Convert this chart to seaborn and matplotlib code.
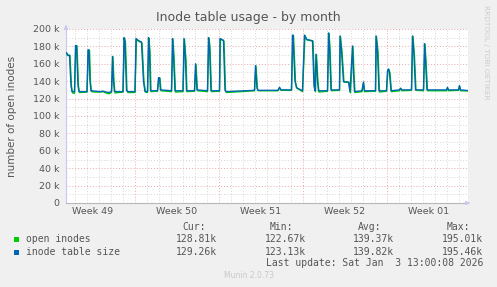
import matplotlib
matplotlib.use("Agg")
import matplotlib.pyplot as plt
import matplotlib.patches as mpatches
from matplotlib.ticker import FuncFormatter
import numpy as np
import pandas as pd
import seaborn as sns

# ---------------- data (hours since left edge of graph, values in thousands) ----
table_hours = [0,2,3,7,10,12,17,19,21,24,
               26,42,44,46,48,50,58,68,74,80,
               86,91,93,95,97,114,116,118,121,123,
               138,140,144,151,155,158,163,165,167,169,
               183,185,187,189,211,213,215,218,234,236,
               239,241,257,259,262,283,285,287,290,307,
               308,315,318,320,377,379,382,384,424,427,
               430,451,453,454,458,461,473,477,481,493,
               496,498,500,503,505,523,525,527,530,547,
               548,551,555,565,568,573,575,577,592,595,
               597,619,620,623,626,641,643,645,647,650,
               667,669,672,691,693,696,699,715,717,719,
               722,761,763,765,785,787,789,804]

table_size_k = [173,172,170,170,135,128,128,181,181,135,
                128,128,176,176,140,129,128.5,128,128.5,127.5,
                127,128,168.5,140,128,128,190,185,130,128,
                128,189,187,185,140,128,128,190,175,129,
                129,144,144,130,129,189,170,129,129,189,
                165,129,129,160,130,129,190,180,129,129,
                189,187,130,128,129.5,158,132,129.5,129.5,133,
                130,130,193,193,140,132.5,129,193,188,186.5,
                135,129,171,140,129,129,195.4,180,130,130,
                192,175,139.5,139,128,180.5,150,128,129,139,
                129,129,192,175,129,129,152,154,150,129,
                130,132,130,130,192,170,130,130,183,165,
                130,130,133,130,130,135,130,129.26]

open_hours = [0,2,3,8,11,13,17,20,22,25,
              27,42,45,47,49,51,58,68,74,80,
              86,91,94,96,98,114,117,119,122,124,
              138,141,145,152,156,159,163,166,168,170,
              183,186,188,190,211,214,216,219,234,237,
              240,242,257,260,263,283,286,288,291,307,
              309,316,319,321,377,380,383,385,424,427,
              430,451,454,455,459,462,473,478,482,494,
              497,499,501,504,506,523,526,528,531,547,
              549,552,556,566,569,574,576,578,592,595,
              597,619,621,624,627,641,644,646,648,651,
              667,669,672,691,694,697,700,715,718,720,
              723,761,763,765,785,787,789,804]

open_inodes_k = [172.5,171.5,169.5,169.5,134,126.5,126,180.5,180.5,134,
                 127,127.5,175.5,175.5,139,128,127.5,127.5,128,126.5,
                 125.5,127,168,139,126.5,127.5,189.5,184,129,127,
                 127,188.5,186,184,139,127.5,127,189.5,174,128,
                 128.5,143.5,143.5,129,128,188.5,169,127.5,128,188.5,
                 164,128,128.5,159.5,129,128,189.5,179,128,128.5,
                 188.5,186,129,127,129,157.5,131,129,129,132.5,
                 129.5,129.5,192.5,192.5,139,132,128,192.5,187.5,186,
                 134,128,170.5,139,127.5,128.5,195.0,179,129,129.5,
                 191.5,174,139,138.5,126.5,180,149,127,128,138,
                 128,128.5,191.5,174,127.5,128.5,151.5,153.5,149,128,
                 129,131.5,129,129.5,191.5,169,129.5,129,182.5,164,
                 129,129,132,129,129.5,134,129,128.81]

week_labels = ["Week 49", "Week 50", "Week 51", "Week 52", "Week 01"]
week_label_hours = [54, 222, 390, 558, 726]
week_boundary_hours = [138, 306, 474, 642]
day_grid_hours = list(range(18, 804, 24))

series_names = ["open inodes", "inode table size"]
series_colors = ["#00cc00", "#0066b3"]
stats_cur = ["128.81k", "129.26k"]
stats_min = ["122.67k", "123.13k"]
stats_avg = ["139.37k", "139.82k"]
stats_max = ["195.01k", "195.46k"]

title = "Inode table usage - by month"
ylabel = "number of open inodes"
last_update = "Last update: Sat Jan  3 13:00:08 2026"

# ---------------- figure ----------------
sns.set_theme(style="white")
plt.rcParams['font.family'] = ['DejaVu Sans']

W, H = 497, 287
fig = plt.figure(figsize=(W / 100, H / 100), dpi=100, facecolor="#f0f0f0")

def fx(px):
    return px / W

def fy(py):
    return 1 - py / H

ax = fig.add_axes([fx(66), fy(203), fx(468) - fx(66), fy(29) - fy(203)])
ax.set_facecolor("white")

# grid
minor_c = "#d4d4d4"
major_c = "#e8a6a6"
dot = (0, (1, 2))
for yv in range(10000, 200001, 20000):
    ax.axhline(yv, color=minor_c, lw=0.7, ls=dot, zorder=0)
for xv in day_grid_hours:
    if xv not in week_boundary_hours:
        ax.axvline(xv, color=minor_c, lw=0.7, ls=dot, zorder=0)
for yv in range(20000, 200001, 20000):
    ax.axhline(yv, color=major_c, lw=0.7, ls=dot, zorder=0.5)
for xv in week_boundary_hours:
    ax.axvline(xv, color=major_c, lw=0.7, ls=dot, zorder=0.5)

df = pd.DataFrame({
    "hours": open_hours + table_hours,
    "value": [v * 1000 for v in open_inodes_k] + [v * 1000 for v in table_size_k],
    "series": [series_names[0]] * len(open_hours) + [series_names[1]] * len(table_hours),
})
sns.lineplot(data=df, x="hours", y="value", hue="series",
             palette=dict(zip(series_names, series_colors)),
             linewidth=1.0, legend=False, ax=ax, zorder=3, estimator=None,
             sort=False)

ax.set_xlim(0, 804)
ax.set_ylim(0, 200000)
ax.set_xlabel("")
ax.set_ylabel("")
ax.set_xticks(week_label_hours)
ax.set_xticklabels(week_labels)
ax.set_yticks(range(0, 200001, 20000))
ax.yaxis.set_major_formatter(FuncFormatter(lambda v, p: "0" if v == 0 else f"{int(v / 1000)} k"))
ax.tick_params(axis="both", length=0, labelsize=6.8, colors="#555555")
ax.tick_params(axis="y", pad=5)
ax.tick_params(axis="x", pad=3)
for s in ["top", "right"]:
    ax.spines[s].set_visible(False)
ax.spines["left"].set_color("#c8c8f0")
ax.spines["left"].set_linewidth(0.8)
ax.spines["bottom"].set_color("#b8b8b8")
ax.spines["bottom"].set_linewidth(0.8)

# axis arrows
ax.annotate("", xy=(0, 1.04), xytext=(0, 0.995), xycoords="axes fraction",
            arrowprops=dict(arrowstyle="-|>", color="#c8c8f0", lw=0.8,
                            mutation_scale=6), annotation_clip=False)
ax.annotate("", xy=(1.012, 0), xytext=(0.995, 0), xycoords="axes fraction",
            arrowprops=dict(arrowstyle="-|>", color="#c8c8f0", lw=0.8,
                            mutation_scale=6), annotation_clip=False)

# texts
fig.text(0.5, fy(17), title, ha="center", va="center", fontsize=9, color="#555555")
fig.text(fx(12), fy(116), ylabel, ha="center", va="center", rotation=90,
         fontsize=7.5, color="#555555")
fig.text(fx(486), fy(5), "RRDTOOL / TOBI OETIKER", ha="center", va="top",
         rotation=270, fontsize=5.3, color="#cccccc")

mono = dict(family="DejaVu Sans Mono", fontsize=7, color="#555555", va="center")
headers = ["Cur:", "Min:", "Avg:", "Max:"]
header_x = [182, 270, 358, 447]
for h, x in zip(headers, header_x):
    fig.text(fx(x), fy(227.5), h, ha="left", **mono)

value_right = [217, 306, 394, 483]
row_y = [239.5, 252]
for i in range(2):
    fig.patches.append(mpatches.Rectangle((fx(14), fy(row_y[i] + 2.5)), fx(5), fy(0) - fy(5),
                                          transform=fig.transFigure,
                                          facecolor=series_colors[i], edgecolor="none"))
    fig.text(fx(26), fy(row_y[i]), series_names[i], ha="left", **mono)
    vals = [stats_cur[i], stats_min[i], stats_avg[i], stats_max[i]]
    for v, x in zip(vals, value_right):
        fig.text(fx(x), fy(row_y[i]), v, ha="right", **mono)

fig.text(fx(483), fy(263.5), last_update, ha="right", **mono)
fig.text(0.5, fy(276), "Munin 2.0.73", ha="center", va="center", fontsize=5.5, color="#c8c8c8")

fig.savefig("out.png", dpi=100, facecolor=fig.get_facecolor())
